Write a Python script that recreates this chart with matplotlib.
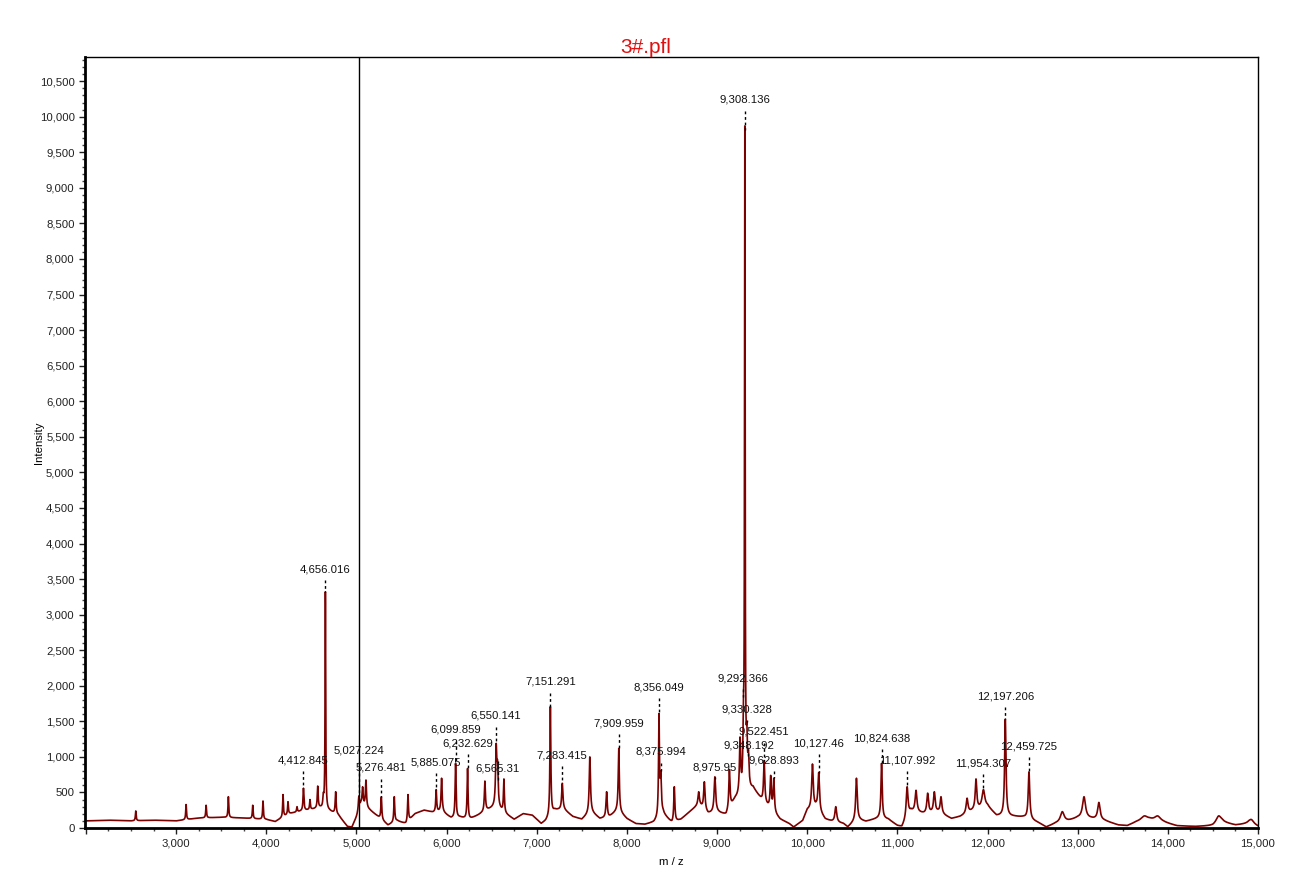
import numpy as np
import matplotlib
matplotlib.use("Agg")
import matplotlib.pyplot as plt
from matplotlib.ticker import MultipleLocator, FuncFormatter

plt.rcParams['font.family'] = ['Liberation Sans', 'DejaVu Sans']

# baseline under the peaks (m/z, intensity)
base_mz = [1990, 2250, 2500, 2750, 3000, 3250, 3500, 3750, 4000, 4100, 4250, 4400,
           4500, 4600, 4700, 4800, 4900, 4950, 5000, 5050, 5150, 5250, 5350, 5450,
           5550, 5650, 5750, 5850, 5950, 6050, 6150, 6250, 6350, 6450, 6550, 6650,
           6750, 6850, 6950, 7050, 7100, 7200, 7300, 7400, 7500, 7600, 7700, 7800,
           7900, 8000, 8100, 8200, 8300, 8400, 8500, 8600, 8700, 8800, 8900, 9000,
           9100, 9200, 9400, 9500, 9600, 9700, 9800, 9850, 9950, 10000, 10100, 10200,
           10300, 10400, 10450, 10550, 10650, 10800, 10900, 11000, 11050, 11150, 11300, 11450,
           11600, 11700, 11850, 12000, 12100, 12300, 12400, 12550, 12650, 12750, 12900, 13000,
           13150, 13300, 13450, 13550, 13650, 13800, 13950, 14100, 14300, 14500, 14600, 14750,
           14900, 15000]
base_int = [100, 110, 100, 110, 100, 140, 150, 140, 120, 90, 200, 240,
            260, 280, 240, 180, 20, 10, 150, 330, 250, 150, 40, 100,
            60, 200, 250, 220, 230, 140, 150, 120, 180, 250, 300, 200,
            120, 200, 180, 60, 100, 250, 260, 160, 120, 230, 130, 150,
            250, 130, 60, 50, 80, 200, 70, 120, 230, 330, 200, 220,
            180, 400, 550, 380, 250, 120, 60, 10, 100, 250, 280, 120,
            80, 60, 10, 120, 90, 140, 120, 30, 10, 230, 200, 220,
            130, 160, 250, 300, 170, 160, 150, 80, 10, 60, 100, 140,
            130, 100, 40, 30, 80, 110, 80, 30, 20, 30, 80, 40,
            60, 20]

# peaks: m/z, apex intensity, half width (Da)
peak_mz = [2553, 3111, 3333, 3580, 3850, 3964, 4186, 4241, 4341, 4412.845,
           4485, 4571, 4633, 4656.016, 4770, 5027.224, 5069, 5106, 5276.481, 5420,
           5572, 5885.075, 5945, 6099.859, 6232.629, 6425, 6550.141, 6565.31, 6636, 7151.291,
           7283.415, 7589, 7775, 7909.959, 8356.049, 8375.994, 8526, 8796, 8859, 8975.95,
           9137, 9255, 9292.366, 9308.136, 9330.328, 9348.192, 9522.451, 9595, 9628.893, 10058,
           10127.46, 10317, 10546, 10824.638, 11107.992, 11207, 11336, 11410, 11484, 11773,
           11872, 11954.307, 12197.206, 12459.725, 12829, 13070, 13235, 13739, 13887, 14563,
           14925]
peak_top = [240, 330, 320, 440, 320, 380, 470, 370, 300, 560,
            400, 590, 500, 3320, 510, 450, 580, 675, 440, 440,
            470, 540, 700, 910, 840, 660, 1190, 950, 690, 1710,
            630, 1000, 510, 1120, 1610, 800, 580, 510, 650, 720,
            820, 1280, 1850, 9880, 1490, 1100, 950, 740, 700, 900,
            780, 300, 700, 910, 580, 530, 490, 510, 440, 420,
            690, 540, 1530, 790, 230, 440, 360, 170, 170, 170,
            120]
peak_w = [5, 5, 5, 5, 5, 5, 5, 5, 5, 6,
          5, 6, 6, 4, 6, 7, 7, 7, 6, 6,
          6, 6, 7, 6, 6, 7, 8, 8, 6, 6,
          8, 8, 8, 7, 6, 8, 7, 9, 9, 10,
          8, 8, 6, 4, 7, 8, 8, 8, 8, 10,
          10, 12, 10, 8, 12, 12, 11, 11, 11, 12,
          10, 18, 9, 10, 25, 20, 16, 45, 40, 35,
          35]

# labelled peaks and the height of their text
label_mz = [4412.845, 4656.016, 5027.224, 5276.481, 5885.075, 6099.859, 6232.629,
            6550.141, 6565.31, 7151.291, 7283.415, 7909.959, 8356.049, 8375.994,
            8975.95, 9292.366, 9308.136, 9330.328, 9348.192, 9522.451, 9628.893,
            10127.46, 10824.638, 11107.992, 11954.307, 12197.206, 12459.725]
label_y = [956, 3641, 1083, 844, 928, 1378, 1195,
           1575, 830, 2053, 1026, 1476, 1982, 1069,
           844, 2109, 10236, 1673, 1167, 1350, 956,
           1195, 1265, 956, 914, 1856, 1153]

mz = np.arange(1990.0, 15000.5, 1.0)
centers = np.array(peak_mz)
widths = np.array(peak_w)


def lorentz(x, c, w):
    return 1.0 / (1.0 + ((x - c) / w) ** 2)


# amplitudes so that the trace passes through each apex
base_at_c = np.interp(centers, base_mz, base_int)
M = lorentz(centers[:, None], centers[None, :], widths[None, :])
amps = np.linalg.solve(M, np.array(peak_top) - base_at_c)
amps = np.clip(amps, 0, None)

spec = np.interp(mz, base_mz, base_int)
for c, w, a in zip(centers, widths, amps):
    spec += a * lorentz(mz, c, w)

fig = plt.figure(figsize=(12.92, 8.89), dpi=100)
ax = fig.add_axes([0.0658, 0.0686, 0.9079, 0.8673])

ax.plot(mz, spec, color='#7b0000', lw=1.2)
ax.axvline(5027.224, color='black', lw=1.0)

for m, ly in zip(label_mz, label_y):
    top = np.interp(m, mz, spec)
    ax.text(m, ly, f"{m:,}", ha='center', va='center', fontsize=8.2, color='#111111')
    ax.plot([m, m], [ly - 150, top], color='black', lw=1.0,
            linestyle=(0, (2, 2)))

ax.set_xlim(1990, 15000)
ax.set_ylim(0, 10840)

ax.xaxis.set_major_locator(MultipleLocator(1000))
ax.xaxis.set_minor_locator(MultipleLocator(250))
ax.yaxis.set_major_locator(MultipleLocator(500))
ax.yaxis.set_minor_locator(MultipleLocator(100))
ax.xaxis.set_major_formatter(FuncFormatter(lambda v, p: f"{int(v):,}" if v >= 3000 else ""))
ax.yaxis.set_major_formatter(FuncFormatter(lambda v, p: f"{int(v):,}"))
ax.tick_params(which='major', direction='out', length=4, width=1, labelsize=8.2, colors='#222222')
ax.tick_params(which='minor', direction='out', length=2, width=1, colors='#444444')

for s in ['left', 'bottom']:
    ax.spines[s].set_linewidth(2)
for s in ['top', 'right']:
    ax.spines[s].set_linewidth(1)

ax.set_xlabel('m / z', fontsize=8.2, labelpad=6)
ax.set_ylabel('Intensity', fontsize=8.2, labelpad=-3)
fig.suptitle('3#.pfl', x=0.5, y=0.957, color='#e01010', fontsize=15)

fig.savefig('out.png', dpi=100)
